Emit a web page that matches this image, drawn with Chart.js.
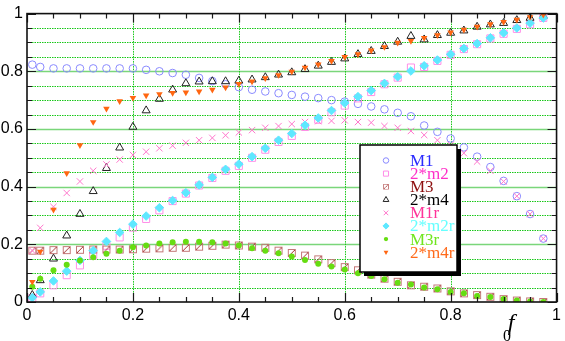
<!DOCTYPE html>
<html>
<head>
<meta charset="utf-8">
<script src="https://cdn.jsdelivr.net/npm/chart.js@4.4.1/dist/chart.umd.min.js"></script>
<style>
    html, body { margin: 0; padding: 0; background: #fff; }
    #wrap { width: 565px; height: 341px; position: relative; }
</style>
</head>
<body>
<div id="wrap"><canvas id="chart"></canvas></div>
<script>
// f0 sample positions shared by every series
const F0 = [0.01, 0.025, 0.05, 0.075, 0.1, 0.125, 0.15, 0.175, 0.2, 0.225,
            0.25, 0.275, 0.3, 0.325, 0.35, 0.375, 0.4, 0.425, 0.45, 0.475,
            0.5, 0.525, 0.55, 0.575, 0.6, 0.625, 0.65, 0.675, 0.7, 0.725,
            0.75, 0.775, 0.8, 0.825, 0.85, 0.875, 0.9, 0.925, 0.95, 0.975];

const M1 = [0.823, 0.815, 0.81, 0.81, 0.81, 0.81, 0.81, 0.81, 0.81, 0.805,
            0.80, 0.794, 0.788, 0.777, 0.766, 0.755, 0.745, 0.736, 0.73, 0.724,
            0.718, 0.712, 0.707, 0.70, 0.695, 0.687, 0.678, 0.668, 0.656, 0.644,
            0.612, 0.59, 0.567, 0.536, 0.504, 0.468, 0.42, 0.367, 0.305, 0.22];

const M2x2 = [0.013, 0.03, 0.058, 0.093, 0.127, 0.161, 0.195, 0.224, 0.258, 0.288,
              0.318, 0.35, 0.376, 0.404, 0.43, 0.455, 0.472, 0.5, 0.528, 0.555,
              0.576, 0.607, 0.632, 0.658, 0.681, 0.706, 0.728, 0.755, 0.778, 0.813,
              0.815, 0.836, 0.857, 0.877, 0.894, 0.914, 0.93, 0.947, 0.963, 0.985];

const M3 = [0.178, 0.178, 0.18, 0.18, 0.181, 0.182, 0.182, 0.182, 0.183, 0.185,
            0.186, 0.188, 0.188, 0.192, 0.195, 0.199, 0.196, 0.192, 0.188, 0.178,
            0.17, 0.161, 0.148, 0.135, 0.121, 0.11, 0.095, 0.081, 0.07, 0.058,
            0.053, 0.047, 0.037, 0.03, 0.024, 0.018, 0.01, 0.005, 0.002, 0.0];

const M4x2 = [0.024, 0.075, 0.15, 0.23, 0.305, 0.384, 0.464, 0.535, 0.607, 0.664,
              0.704, 0.736, 0.758, 0.764, 0.765, 0.765, 0.767, 0.771, 0.779, 0.788,
              0.796, 0.807, 0.819, 0.832, 0.844, 0.859, 0.87, 0.887, 0.902, 0.922,
              0.91, 0.925, 0.933, 0.941, 0.954, 0.962, 0.967, 0.977, 0.985, 0.992];

const M1r = [0.178, 0.257, 0.33, 0.378, 0.418, 0.455, 0.477, 0.494, 0.51, 0.521,
             0.533, 0.542, 0.552, 0.561, 0.569, 0.578, 0.588, 0.596, 0.604, 0.61,
             0.617, 0.624, 0.627, 0.628, 0.63, 0.624, 0.622, 0.61, 0.604, 0.593,
             0.579, 0.561, 0.545, 0.516, 0.487, 0.455, 0.418, 0.367, 0.305, 0.22];

const M2rx2 = [0.015, 0.035, 0.073, 0.107, 0.144, 0.178, 0.21, 0.241, 0.27, 0.298,
               0.327, 0.352, 0.379, 0.406, 0.432, 0.46, 0.478, 0.504, 0.533, 0.561,
               0.584, 0.613, 0.638, 0.664, 0.69, 0.712, 0.733, 0.758, 0.781, 0.801,
               0.819, 0.839, 0.859, 0.879, 0.896, 0.916, 0.933, 0.95, 0.967, 0.985];

const M3r = [0.053, 0.081, 0.11, 0.129, 0.144, 0.155, 0.167, 0.178, 0.19, 0.196,
             0.203, 0.207, 0.209, 0.209, 0.207, 0.203, 0.196, 0.186, 0.178, 0.169,
             0.158, 0.146, 0.133, 0.123, 0.113, 0.1, 0.09, 0.079, 0.067, 0.061,
             0.05, 0.044, 0.035, 0.03, 0.021, 0.017, 0.01, 0.005, 0.002, 0.0];

const M4rx2 = [0.07, 0.175, 0.32, 0.447, 0.544, 0.624, 0.67, 0.696, 0.708, 0.716,
               0.721, 0.725, 0.727, 0.73, 0.736, 0.744, 0.756, 0.765, 0.776, 0.787,
               0.799, 0.813, 0.824, 0.836, 0.85, 0.859, 0.872, 0.884, 0.899, 0.905,
               0.916, 0.925, 0.935, 0.944, 0.955, 0.963, 0.971, 0.979, 0.988, 0.996];

const SERIES_NAMES = ['M1', '2*m2', 'M3', '2*m4', 'M1r', '2*m2r', 'M3r', '2*m4r'];
const TEXT_COLORS = ['#2b2bff', '#ff2fc8', '#8e1010', '#000000', '#ff3399', '#66ffff', '#70e620', '#ff6a1a'];

// square with a diagonal stroke, used for M3
function slashSquare(size) {
    const c = document.createElement('canvas');
    c.width = size; c.height = size;
    const g = c.getContext('2d');
    g.strokeStyle = '#c47878';
    g.lineWidth = 1;
    g.strokeRect(1.5, 1.5, size - 3, size - 3);
    g.strokeStyle = '#a32e2e';
    g.beginPath();
    g.moveTo(2, size - 2);
    g.lineTo(size - 2, 2);
    g.stroke();
    return c;
}

function pts(values) {
    return F0.map((x, i) => ({ x: x, y: values[i] }));
}

const datasets = [
    { label: 'M1', data: pts(M1), pointStyle: 'circle', pointRadius: 3.8,
      borderColor: '#8a8aff', backgroundColor: 'rgba(0,0,0,0)', pointBorderWidth: 1, order: 8 },
    { label: '2*m2', data: pts(M2x2), pointStyle: 'rect', pointRadius: 5,
      borderColor: '#ff8ee8', backgroundColor: 'rgba(0,0,0,0)', pointBorderWidth: 1, order: 7 },
    { label: 'M3', data: pts(M3), pointStyle: slashSquare(10), pointRadius: 5,
      borderColor: '#c47878', backgroundColor: 'rgba(0,0,0,0)', order: 6 },
    { label: '2*m4', data: pts(M4x2), pointStyle: 'triangle', pointRadius: 4.6,
      borderColor: '#222222', backgroundColor: 'rgba(0,0,0,0)', pointBorderWidth: 1, order: 5 },
    { label: 'M1r', data: pts(M1r), pointStyle: 'crossRot', pointRadius: 4.5,
      borderColor: '#ff77cc', backgroundColor: 'rgba(0,0,0,0)', pointBorderWidth: 1, order: 4 },
    { label: '2*m2r', data: pts(M2rx2), pointStyle: 'rectRot', pointRadius: 4.3,
      borderColor: '#5ee8ff', backgroundColor: '#5ee8ff', pointBorderWidth: 1, order: 3 },
    { label: 'M3r', data: pts(M3r), pointStyle: 'circle', pointRadius: 3,
      borderColor: '#66dd11', backgroundColor: '#66dd11', pointBorderWidth: 0, order: 2 },
    { label: '2*m4r', data: pts(M4rx2), pointStyle: 'triangle', pointRadius: 3.8, rotation: 180,
      borderColor: '#ff6611', backgroundColor: '#ff6611', pointBorderWidth: 0, order: 1 }
];

function isMajor(v) {
    return Math.abs(v * 5 - Math.round(v * 5)) < 1e-6;
}

function fmt(v) {
    const r = Math.round(v * 10) / 10;
    return String(r);
}

// gnuplot-like grid: dotted minor lines, solid major lines
const gridPlugin = {
    id: 'gnuGrid',
    beforeDatasetsDraw(chart) {
        const { ctx, chartArea: a, scales } = chart;
        ctx.save();
        scales.y.ticks.forEach(t => {
            const v = t.value;
            if (v <= 0.001 || v >= 0.999) return;
            const py = Math.round(scales.y.getPixelForValue(v)) + 0.5;
            ctx.beginPath();
            if (isMajor(v)) {
                ctx.setLineDash([]);
                ctx.strokeStyle = '#7ad67a';
                ctx.lineWidth = 1.6;
            } else {
                ctx.setLineDash([1.5, 1]);
                ctx.strokeStyle = '#18c818';
                ctx.lineWidth = 1;
            }
            ctx.moveTo(a.left, py);
            ctx.lineTo(a.right, py);
            ctx.stroke();
        });
        scales.x.ticks.forEach(t => {
            const v = t.value;
            if (!isMajor(v) || v <= 0.001 || v >= 0.999) return;
            const px = Math.round(scales.x.getPixelForValue(v)) + 0.5;
            ctx.beginPath();
            ctx.setLineDash([1.5, 1]);
            ctx.strokeStyle = '#18c818';
            ctx.lineWidth = 1;
            ctx.moveTo(px, a.top);
            ctx.lineTo(px, a.bottom);
            ctx.stroke();
        });
        ctx.restore();
    },
    afterDatasetsDraw(chart) {
        const { ctx, chartArea: a, scales } = chart;
        ctx.save();
        ctx.setLineDash([]);
        ctx.strokeStyle = '#1a1a1a';
        ctx.lineWidth = 1.2;
        scales.y.ticks.forEach(t => {
            const len = isMajor(t.value) ? 9 : 5;
            const py = Math.round(scales.y.getPixelForValue(t.value)) + 0.5;
            ctx.beginPath();
            ctx.moveTo(a.left, py); ctx.lineTo(a.left + len, py);
            ctx.moveTo(a.right, py); ctx.lineTo(a.right - len, py);
            ctx.stroke();
        });
        scales.x.ticks.forEach(t => {
            const len = isMajor(t.value) ? 9 : 5;
            const px = Math.round(scales.x.getPixelForValue(t.value)) + 0.5;
            ctx.beginPath();
            ctx.moveTo(px, a.bottom); ctx.lineTo(px, a.bottom - len);
            ctx.moveTo(px, a.top); ctx.lineTo(px, a.top + len);
            ctx.stroke();
        });
        ctx.lineWidth = 1.6;
        ctx.strokeStyle = '#111';
        ctx.strokeRect(a.left, a.top, a.right - a.left, a.bottom - a.top);
        ctx.restore();
    }
};

// boxed legend with drop shadow, inside the plot
const legendPlugin = {
    id: 'boxLegend',
    afterDraw(chart) {
        const { ctx } = chart;
        const bx = 360, by = 145, bw = 97, bh = 127;
        ctx.save();
        ctx.fillStyle = '#000';
        ctx.fillRect(bx + 4, by + 4, bw, bh);
        ctx.fillStyle = '#fff';
        ctx.fillRect(bx, by, bw, bh);
        ctx.strokeStyle = '#000';
        ctx.lineWidth = 1.5;
        ctx.strokeRect(bx, by, bw, bh);

        ctx.font = '17px "Liberation Serif", "Times New Roman", serif';
        ctx.textBaseline = 'middle';
        ctx.textAlign = 'left';
        chart.data.datasets.forEach((ds, i) => {
            const cy = by + 15.5 + i * 13.1;
            const sx = bx + 26;
            if (typeof ds.pointStyle === 'string') {
                ctx.strokeStyle = ds.borderColor;
                ctx.fillStyle = ds.backgroundColor;
                ctx.lineWidth = ds.pointBorderWidth === 0 ? 0.01 : 1;
                Chart.helpers.drawPoint(ctx, {
                    pointStyle: ds.pointStyle,
                    rotation: ds.rotation || 0,
                    radius: ds.pointRadius * 0.72,
                    borderWidth: ds.pointBorderWidth === 0 ? 0 : 1
                }, sx, cy);
            } else {
                ctx.drawImage(ds.pointStyle, sx - 3.5, cy - 3.5, 7, 7);
            }
            ctx.fillStyle = TEXT_COLORS[i];
            ctx.fillText(SERIES_NAMES[i], bx + 50, cy + 1);
        });

        // axis title f_0
        ctx.fillStyle = '#000';
        ctx.font = 'italic 24px "Liberation Serif", "Times New Roman", serif';
        ctx.textAlign = 'center';
        ctx.textBaseline = 'alphabetic';
        ctx.fillText('f', 511, 330);
        ctx.font = '16px "Liberation Serif", "Times New Roman", serif';
        ctx.fillText('0', 507, 341);
        ctx.restore();
    }
};

const tickFont = { family: 'Liberation Sans', size: 16 };

new Chart(document.getElementById('chart'), {
    type: 'scatter',
    data: { datasets: datasets },
    options: {
        responsive: true,
        maintainAspectRatio: false,
        animation: false,
        layout: { padding: { top: 10, right: 6, left: 0, bottom: 0 } },
        plugins: {
            legend: { display: false },
            tooltip: { enabled: false }
        },
        scales: {
            x: {
                type: 'linear',
                min: 0,
                max: 1,
                grid: { display: false, drawTicks: false },
                border: { display: false },
                afterFit: s => { s.height = 39; },
                ticks: {
                    stepSize: 0.05,
                    autoSkip: false,
                    maxRotation: 0,
                    padding: 4,
                    color: '#000',
                    font: tickFont,
                    callback: v => isMajor(v) ? fmt(v) : ''
                }
            },
            y: {
                type: 'linear',
                min: 0,
                max: 1,
                grid: { display: false, drawTicks: false },
                border: { display: false },
                afterFit: s => { s.width = 27; },
                ticks: {
                    stepSize: 0.05,
                    autoSkip: false,
                    padding: 4,
                    color: '#000',
                    font: tickFont,
                    callback: v => isMajor(v) ? fmt(v) : ''
                }
            }
        }
    },
    plugins: [gridPlugin, legendPlugin]
});
</script>
</body>
</html>
